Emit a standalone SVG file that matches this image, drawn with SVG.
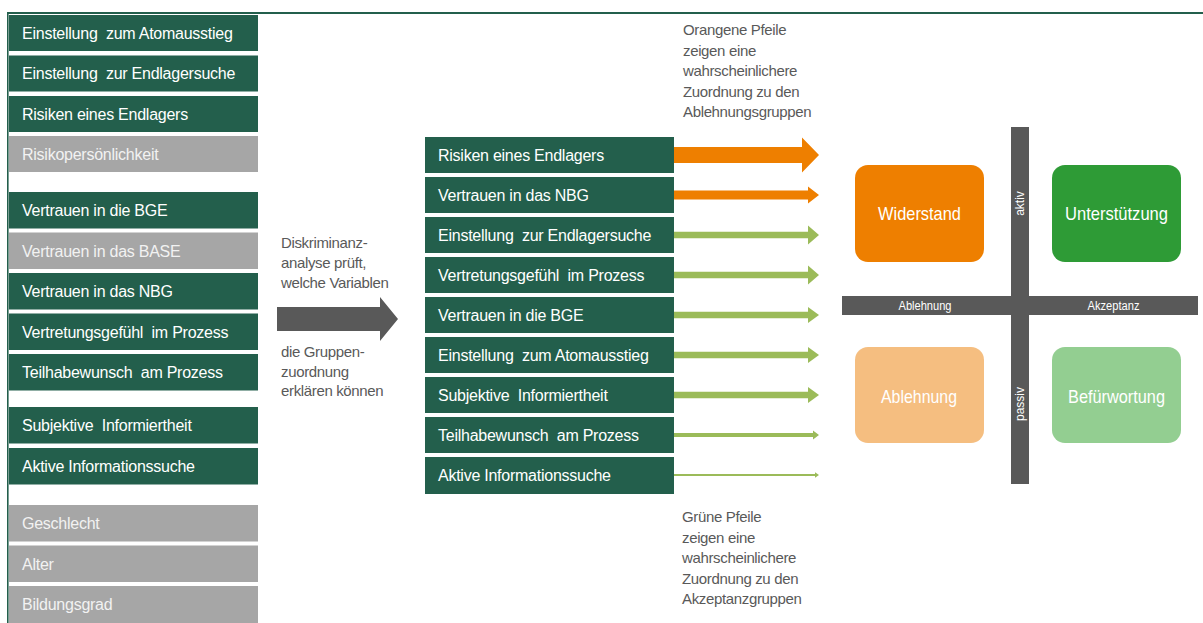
<svg xmlns="http://www.w3.org/2000/svg" width="1203" height="623" viewBox="0 0 1203 623">
<style>
.bg{fill:#ffffff}
.dk{fill:#235F4C}
.gy{fill:#A6A6A6}
.lt{font-family:"Liberation Sans",Arial,sans-serif;font-size:16px;letter-spacing:-0.25px;fill:#ffffff;white-space:pre}
.gt{font-family:"Liberation Sans",Arial,sans-serif;font-size:16px;letter-spacing:-0.25px;fill:#F2F2F2;white-space:pre}
.ann{font-family:"Liberation Sans",Arial,sans-serif;font-size:15px;letter-spacing:-0.35px;fill:#595959}
.ax{font-family:"Liberation Sans",Arial,sans-serif;font-size:12px;fill:#ffffff;text-anchor:middle}
.ql{font-family:"Liberation Sans",Arial,sans-serif;font-size:19px;fill:#ffffff;text-anchor:middle}
.or{fill:#EE7F00}
.gr{fill:#9BBB59}
</style>
<rect class="bg" x="0" y="0" width="1203" height="623"/>
<g id="frame">
<rect x="7" y="12" width="1196" height="2" fill="#235F4C"/>
<rect x="7" y="12" width="1.6" height="611" fill="#235F4C"/>
</g>
<g id="left-variables">
<g id="l1"><rect class="dk" x="9" y="15" width="249" height="36"/><text class="lt" x="22" y="38.5">Einstellung  zum Atomausstieg</text></g>
<g id="l2"><rect class="dk" x="9" y="55.5" width="249" height="36"/><text class="lt" x="22" y="79">Einstellung  zur Endlagersuche</text></g>
<g id="l3"><rect class="dk" x="9" y="96" width="249" height="36"/><text class="lt" x="22" y="119.5">Risiken eines Endlagers</text></g>
<g id="l4"><rect class="gy" x="9" y="136" width="249" height="36"/><text class="gt" x="22" y="159.5">Risikopersönlichkeit</text></g>
<g id="l5"><rect class="dk" x="9" y="192" width="249" height="36.5"/><text class="lt" x="22" y="216">Vertrauen in die BGE</text></g>
<g id="l6"><rect class="gy" x="9" y="232.5" width="249" height="36.5"/><text class="gt" x="22" y="256.5">Vertrauen in das BASE</text></g>
<g id="l7"><rect class="dk" x="9" y="273" width="249" height="36.5"/><text class="lt" x="22" y="297">Vertrauen in das NBG</text></g>
<g id="l8"><rect class="dk" x="9" y="313.5" width="249" height="36.5"/><text class="lt" x="22" y="337.5">Vertretungsgefühl  im Prozess</text></g>
<g id="l9"><rect class="dk" x="9" y="354" width="249" height="36.5"/><text class="lt" x="22" y="378">Teilhabewunsch  am Prozess</text></g>
<g id="l10"><rect class="dk" x="9" y="407" width="249" height="36.5"/><text class="lt" x="22" y="431">Subjektive  Informiertheit</text></g>
<g id="l11"><rect class="dk" x="9" y="448" width="249" height="36.5"/><text class="lt" x="22" y="472">Aktive Informationssuche</text></g>
<g id="l12"><rect class="gy" x="9" y="505" width="249" height="36.5"/><text class="gt" x="22" y="529">Geschlecht</text></g>
<g id="l13"><rect class="gy" x="9" y="545.5" width="249" height="36.5"/><text class="gt" x="22" y="569.5">Alter</text></g>
<g id="l14"><rect class="gy" x="9" y="586" width="249" height="37"/><text class="gt" x="22" y="610">Bildungsgrad</text></g>
</g>
<g id="analysis">
<text class="ann" x="281" y="248">Diskriminanz-</text>
<text class="ann" x="281" y="268">analyse prüft,</text>
<text class="ann" x="281" y="287.5">welche Variablen</text>
<polygon points="277,307 380,307 380,297 398,319 380,341 380,331 277,331" fill="#595959"/>
<text class="ann" x="281" y="357">die Gruppen-</text>
<text class="ann" x="281" y="377">zuordnung</text>
<text class="ann" x="281" y="396">erklären können</text>
</g>
<g id="middle-variables">
<g id="m1"><rect class="dk" x="425" y="137" width="249" height="36"/><text class="lt" x="438" y="160.5">Risiken eines Endlagers</text></g>
<g id="m2"><rect class="dk" x="425" y="177" width="249" height="36"/><text class="lt" x="438" y="200.5">Vertrauen in das NBG</text></g>
<g id="m3"><rect class="dk" x="425" y="217" width="249" height="36"/><text class="lt" x="438" y="240.5">Einstellung  zur Endlagersuche</text></g>
<g id="m4"><rect class="dk" x="425" y="257" width="249" height="36"/><text class="lt" x="438" y="280.5">Vertretungsgefühl  im Prozess</text></g>
<g id="m5"><rect class="dk" x="425" y="297" width="249" height="36"/><text class="lt" x="438" y="320.5">Vertrauen in die BGE</text></g>
<g id="m6"><rect class="dk" x="425" y="337" width="249" height="36"/><text class="lt" x="438" y="360.5">Einstellung  zum Atomausstieg</text></g>
<g id="m7"><rect class="dk" x="425" y="377" width="249" height="36"/><text class="lt" x="438" y="400.5">Subjektive  Informiertheit</text></g>
<g id="m8"><rect class="dk" x="425" y="417" width="249" height="36"/><text class="lt" x="438" y="440.5">Teilhabewunsch  am Prozess</text></g>
<g id="m9"><rect class="dk" x="425" y="457" width="249" height="37"/><text class="lt" x="438" y="481">Aktive Informationssuche</text></g>
</g>
<g id="connectors">
<polygon class="or" points="674,147 802,147 802,137.5 819,155 802,172.5 802,163 674,163"/>
<polygon class="or" points="674,190.5 808,190.5 808,186.5 819,195 808,203.5 808,199.5 674,199.5"/>
<polygon class="gr" points="674,231.7 808,231.7 808,225.5 819,235 808,244.5 808,238.3 674,238.3"/>
<polygon class="gr" points="674,271.7 808,271.7 808,265.5 819,275 808,284.5 808,278.3 674,278.3"/>
<polygon class="gr" points="674,311.7 808,311.7 808,307 819,315 808,323 808,318.3 674,318.3"/>
<polygon class="gr" points="674,351.7 808,351.7 808,347 819,355 808,363 808,358.3 674,358.3"/>
<polygon class="gr" points="674,391.7 808,391.7 808,387 819,395 808,403 808,398.3 674,398.3"/>
<polygon class="gr" points="674,433 813,433 813,430.5 819,435 813,439.5 813,437 674,437"/>
<polygon class="gr" points="674,474 815,474 815,472.2 819,475 815,477.8 815,476 674,476"/>
</g>
<g id="note-orange">
<text class="ann" x="683" y="35">Orangene Pfeile</text>
<text class="ann" x="683" y="55.5">zeigen eine</text>
<text class="ann" x="683" y="76">wahrscheinlichere</text>
<text class="ann" x="683" y="96.5">Zuordnung zu den</text>
<text class="ann" x="683" y="117">Ablehnungsgruppen</text>
</g>
<g id="note-green">
<text class="ann" x="682" y="522">Grüne Pfeile</text>
<text class="ann" x="682" y="542.5">zeigen eine</text>
<text class="ann" x="682" y="563">wahrscheinlichere</text>
<text class="ann" x="682" y="583.5">Zuordnung zu den</text>
<text class="ann" x="682" y="604">Akzeptanzgruppen</text>
</g>
<g id="axes">
<rect x="1011" y="127" width="18" height="357" fill="#595959"/>
<rect x="842" y="296" width="356" height="19" fill="#595959"/>
<text class="ax" x="925" y="309.5" textLength="53" lengthAdjust="spacingAndGlyphs">Ablehnung</text>
<text class="ax" x="1113.5" y="309.5" textLength="52" lengthAdjust="spacingAndGlyphs">Akzeptanz</text>
<text class="ax" transform="translate(1024.2,203.5) rotate(-90)" x="0" y="0">aktiv</text>
<text class="ax" transform="translate(1024.2,404) rotate(-90)" x="0" y="0">passiv</text>
</g>
<g id="q-widerstand"><rect x="855" y="165" width="129" height="97" rx="13" fill="#EE7F00"/><text class="ql" x="919.5" y="219.5" textLength="83" lengthAdjust="spacingAndGlyphs">Widerstand</text></g>
<g id="q-unterstuetzung"><rect x="1052" y="165" width="129" height="97" rx="13" fill="#2E9B36"/><text class="ql" x="1116.5" y="219.5" textLength="103" lengthAdjust="spacingAndGlyphs">Unterstützung</text></g>
<g id="q-ablehnung"><rect x="855" y="347" width="129" height="96" rx="13" fill="#F5BE80"/><text class="ql" x="919" y="402.5" textLength="76" lengthAdjust="spacingAndGlyphs">Ablehnung</text></g>
<g id="q-befuerwortung"><rect x="1052" y="347" width="129" height="96" rx="13" fill="#93CE91"/><text class="ql" x="1116.5" y="402.5" textLength="97" lengthAdjust="spacingAndGlyphs">Befürwortung</text></g>
</svg>
